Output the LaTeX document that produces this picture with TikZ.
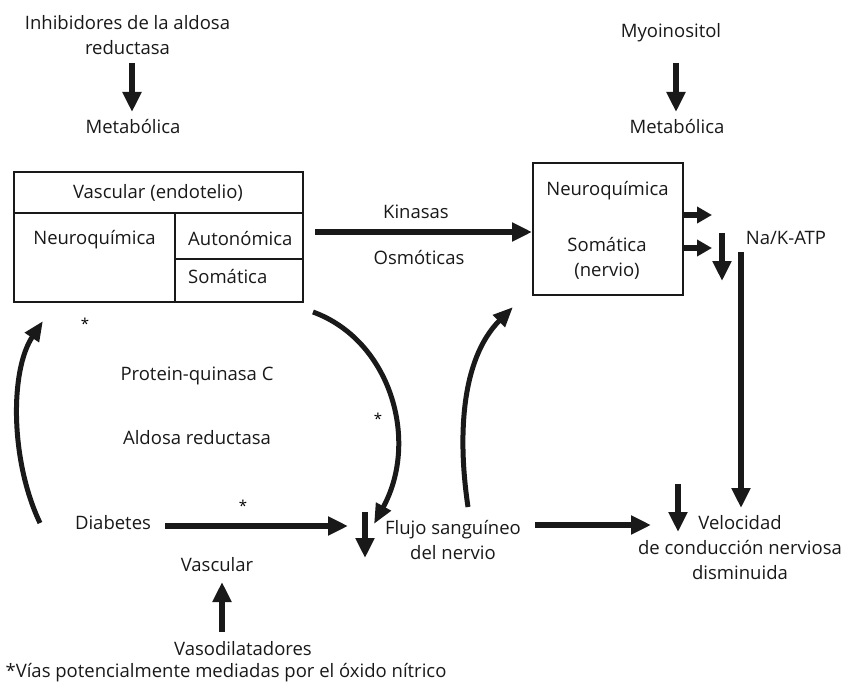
\documentclass[tikz,border=0pt]{standalone}
\usepackage{fontspec}
\setmainfont{Open Sans}
\usetikzlibrary{arrows.meta}
\begin{document}
\begin{tikzpicture}[x=1pt,y=-1pt,
  lbl/.style={font=\fontsize{18.5}{25}\selectfont, inner sep=0pt, align=center, text=black!90},
  starlbl/.style={font=\fontsize{15}{15}\selectfont, inner sep=0pt},
  bigarrow/.style={line width=6pt, draw=black!90, -{Triangle[length=20pt,width=18pt]}},
  smallarrow/.style={line width=6pt, draw=black!90, -{Triangle[length=15pt,width=16pt]}},
  curvearrow/.style={line width=5pt, draw=black!90, -{Triangle[length=20pt,width=16pt]}},
  plainline/.style={line width=6pt, draw=black!90},
  boxline/.style={line width=2pt, draw=black!90},
]
\useasboundingbox (0,0) rectangle (846,687);

% top left
\node[lbl] (inh) at (127.5,35) {Inhibidores de la aldosa\\reductasa};
\node[lbl] (met1) at (133,127) {Metabólica};
\coordinate (a1s) at (132,63);
\coordinate (a1e) at (132,112);
\draw[bigarrow] (a1s) -- (a1e);

% top right
\node[lbl] (myo) at (671,33) {Myoinositol};
\node[lbl] (met2) at (677,127) {Metabólica};
\coordinate (a2s) at (676,63);
\coordinate (a2e) at (676,112);
\draw[bigarrow] (a2s) -- (a2e);

% left box
\node[boxline, minimum width=289pt, minimum height=130pt, inner sep=0pt] (lbox) at (158.5,237) {};
\draw[boxline] (14,213) -- (303,213);
\draw[boxline] (175,213) -- (175,302);
\draw[boxline] (175,259) -- (303,259);
\node[lbl] (vasc) at (158,193) {Vascular (endotelio)};
\node[lbl] (neuro1) at (94.5,240) {Neuroquímica};
\node[lbl, anchor=west] (auto) at (188,239) {Autonómica};
\node[lbl, anchor=west] (soma1) at (188,277) {Somática};

% right box
\node[boxline, minimum width=150pt, minimum height=132pt, inner sep=0pt] (rbox) at (608,229) {};
\node[lbl] (neuro2) at (607.5,191) {Neuroquímica};
\node[lbl] (soma2) at (607,258) {Somática\\(nervio)};

% kinasas arrow
\node[lbl] (kin) at (416,212) {Kinasas};
\node[lbl] (osm) at (419,258) {Osmóticas};
\coordinate (k1) at (315,232);
\draw[bigarrow] (k1) -- (rbox.west |- k1);

% small arrows from right box
\coordinate (s1) at (712,215);
\coordinate (s2) at (712,248);
\draw[smallarrow] (rbox.east |- s1) -- (s1);
\draw[smallarrow] (rbox.east |- s2) -- (s2);
\node[lbl] (nak) at (786,238) {Na/K-ATP};
\coordinate (d1s) at (722,233);
\coordinate (d1e) at (722,281);
\draw[bigarrow] (d1s) -- (d1e);

% Velocidad
\node[lbl] (vel) at (740,548) {Velocidad\\de conducción nerviosa\\disminuida};
\coordinate (l1s) at (741,252);
\coordinate (l1e) at (741,508);
\draw[bigarrow] (l1s) -- (l1e);
\coordinate (d2s) at (678,484);
\coordinate (d2e) at (678,532);
\draw[bigarrow] (d2s) -- (d2e);

% middle labels
\node[starlbl] (st1) at (85,324) {*};
\node[lbl] (pkc) at (197,376) {Protein-quinasa C};
\node[lbl] (ar) at (197,438) {Aldosa reductasa};
\node[starlbl] (st2) at (378,419) {*};
\node[starlbl] (st3) at (243,506) {*};

% Diabetes row
\node[lbl] (diab) at (113,523) {Diabetes};
\node[lbl] (flujo) at (453,540) {Flujo sanguíneo\\del nervio};
\coordinate (dia1) at (165,526);
\coordinate (dia2) at (348,526);
\draw[bigarrow] (dia1) -- (dia2);
\coordinate (d3s) at (365,512);
\coordinate (d3e) at (365,558);
\draw[bigarrow] (d3s) -- (d3e);
\coordinate (fv1) at (535,525);
\coordinate (fv2) at (651,525);
\draw[bigarrow] (fv1) -- (fv2);

% curved arrows
\coordinate (c1s) at (40,523);
\coordinate (c1e) at (43,321);
\draw[curvearrow] (c1s) .. controls (10,460) and (10,370) .. (c1e);
\coordinate (c2s) at (313,312);
\coordinate (c2e) at (374,524);
\draw[curvearrow] (c2s) .. controls (390,340) and (420,440) .. (c2e);
\coordinate (c3s) at (468,507);
\coordinate (c3e) at (513,307);
\draw[curvearrow] (c3s) .. controls (458,440) and (460,360) .. (c3e);

% bottom
\node[lbl] (vasc2) at (217,565) {Vascular};
\node[lbl] (vaso) at (243,649) {Vasodilatadores};
\coordinate (u1s) at (222,632);
\coordinate (u1e) at (222,582);
\draw[bigarrow] (u1s) -- (u1e);
\node[lbl] (foot) at (226,673) {*Vías potencialmente mediadas por el óxido nítrico};
\end{tikzpicture}
\end{document}
